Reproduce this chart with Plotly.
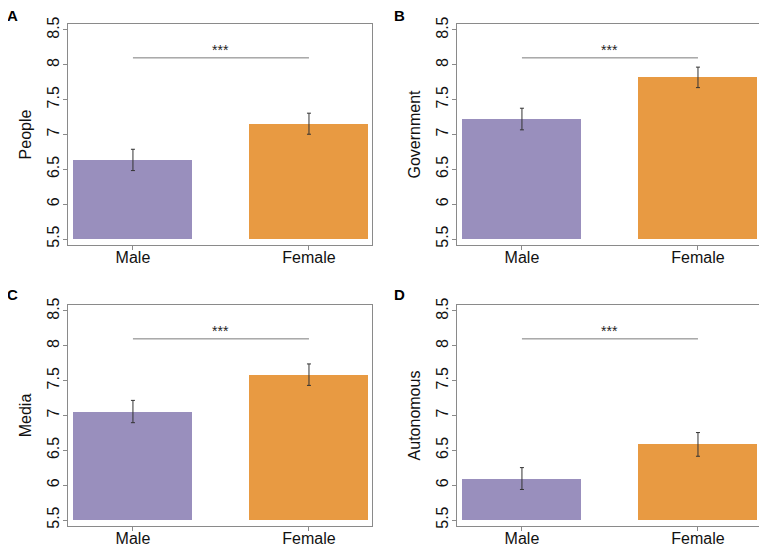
import plotly.graph_objects as go

categories = ["Male", "Female"]
panels = ["A", "B", "C", "D"]
ylabels = ["People", "Government", "Media", "Autonomous"]
means = {
    "A": [6.635, 7.155],
    "B": [7.222, 7.820],
    "C": [7.057, 7.586],
    "D": [6.095, 6.585],
}
errors = {
    "A": [0.153, 0.151],
    "B": [0.155, 0.147],
    "C": [0.160, 0.154],
    "D": [0.157, 0.170],
}
sig_labels = ["***", "***", "***", "***"]
sig_level = 8.1
base_value = 5.5
yticks = [5.5, 6, 6.5, 7, 7.5, 8, 8.5]
colors = ["#998FBD", "#E89A42"]

# the page places the figure 8px from the top-left corner (default body margin)
OFF = 8
W, H = 767 - OFF, 547 - OFF
boxes_px = [(68, 372, 24, 245), (457, 761, 24, 245), (68, 372, 305, 526), (457, 761, 305, 526)]
letters_px = [(12, 15.5), (399, 15.5), (12, 294), (399, 294)]
boxes = [(a - OFF, b - OFF, c - OFF, d - OFF) for a, b, c, d in boxes_px]

fig = go.Figure()
font_family = "Liberation Sans, Arial, Helvetica, sans-serif"

for i, p in enumerate(panels):
    n = i + 1
    xa = "x" if n == 1 else f"x{n}"
    ya = "y" if n == 1 else f"y{n}"
    x0, x1, t, b = boxes[i]
    fig.add_trace(go.Bar(
        x=[0, 1], y=[v - base_value for v in means[p]], base=base_value,
        marker=dict(color=colors, line=dict(width=0)), width=0.676,
        xaxis=xa, yaxis=ya, showlegend=False, hoverinfo="skip"))
    fig.add_trace(go.Scatter(
        x=[0, 1], y=means[p], mode="markers", marker=dict(size=0.1, color="rgba(0,0,0,0)"),
        error_y=dict(type="data", array=errors[p], color="#333333", thickness=1, width=2),
        xaxis=xa, yaxis=ya, showlegend=False, hoverinfo="skip"))
    fig.add_trace(go.Scatter(
        x=[0, 1], y=[sig_level, sig_level], mode="lines",
        line=dict(color="#7a7a7a", width=1), xaxis=xa, yaxis=ya,
        showlegend=False, hoverinfo="skip"))
    fig.add_annotation(x=0.5, y=sig_level, xref=xa, yref=ya, text=sig_labels[i],
                       showarrow=False, yanchor="bottom", yshift=-2,
                       font=dict(size=14, color="#222", family=font_family))
    xdom = [x0 / W, x1 / W]
    ydom = [1 - b / H, 1 - t / H]
    axis_common = dict(showline=True, linecolor="#8a8a8a", linewidth=1, mirror=True,
                       showgrid=False, zeroline=False, ticks="outside", ticklen=4,
                       tickcolor="#8a8a8a", automargin=False)
    fig.layout[("xaxis" if n == 1 else f"xaxis{n}")] = dict(
        domain=xdom, range=[-0.369, 1.358], tickvals=[0, 1], ticktext=categories,
        tickfont=dict(size=16, color="#111", family=font_family),
        ticklabelstandoff=-6,
        anchor=ya, **axis_common)
    fig.layout[("yaxis" if n == 1 else f"yaxis{n}")] = dict(
        domain=ydom, range=[5.414, 8.586], tickvals=yticks,
        ticktext=[f"{v:g}" for v in yticks], tickangle=-90,
        tickfont=dict(size=16, color="#111", family=font_family),
        ticklabelstandoff=-2,
        title=dict(text=ylabels[i], standoff=8,
                   font=dict(size=16, color="#111", family=font_family)),
        anchor=xa, **axis_common)
    lx, ly = letters_px[i]
    fig.add_annotation(x=(lx - OFF) / W, y=1 - (ly - OFF) / H, xref="paper", yref="paper",
                       text=f"<b>{p}</b>", showarrow=False, xanchor="center", yanchor="middle",
                       font=dict(size=15, color="#000", family=font_family))

fig.update_layout(width=W, height=H, margin=dict(l=0, r=0, t=0, b=0),
                  plot_bgcolor="white", paper_bgcolor="white", bargap=0)
fig.write_html("out.html")
